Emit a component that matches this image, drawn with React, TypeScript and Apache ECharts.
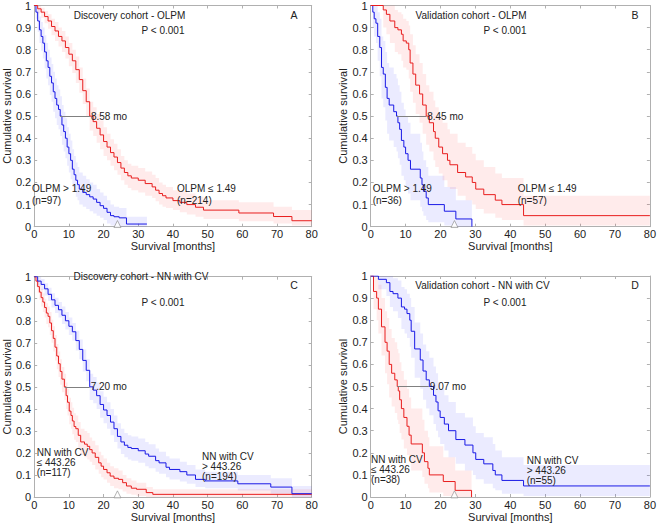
import React, { useEffect, useRef } from 'react';
import * as echarts from 'echarts';

// ---------- DATA ----------
const TITLES = ['Discovery cohort - OLPM', 'Validation cohort - OLPM', 'Discovery cohort - NN with CV', 'Validation cohort - NN with CV'];
const LETTERS = ['A', 'B', 'C', 'D'];
const P_TEXT = 'P < 0.001';
const MED_LABELS = ['8.58 mo', '8.45 mo', '7.20 mo', '9.07 mo'];
const MED_FROM = [7.5, 7.45, 8.8, 7.6];
const MED_TO = [16.08, 15.9, 16.0, 16.67];
const MARKER_X = 24;

// Panel A
const A_BLUE_T = [0, .5, 1, 1.5, 2, 2.5, 3, 3.5, 4, 4.5, 5, 5.5, 6, 6.5, 7, 7.5, 8, 8.5, 9, 9.5, 10, 10.5, 11, 11.5, 12, 12.5, 13, 14, 15, 16, 17, 18, 19, 20, 21, 22, 23, 24.5, 26.6, 32.5];
const A_BLUE_S = [1, .97, .93, .89, .86, .83, .79, .75, .72, .68, .65, .61, .58, .55, .53, .5, .46, .43, .4, .36, .33, .3, .26, .235, .21, .19, .17, .155, .145, .135, .125, .11, .095, .083, .065, .05, .045, .04, .012, .012];
const A_BLUE_HI = [1, 1, .98, .95, .925, .9, .865, .83, .8, .765, .735, .7, .67, .64, .62, .59, .55, .52, .49, .45, .42, .39, .35, .32, .29, .27, .245, .23, .215, .2, .19, .17, .155, .14, .12, .1, .09, .085, .045, .045];
const A_BLUE_LO = [1, .94, .88, .83, .795, .76, .715, .67, .64, .595, .565, .52, .49, .46, .44, .41, .37, .34, .31, .275, .245, .215, .18, .16, .135, .12, .1, .09, .08, .07, .06, .05, .04, .03, .015, .005, 0, 0, 0, 0];

const A_RED_T = [0, 1, 2, 3, 4, 5, 6, 7, 8, 9, 10, 11, 12, 13, 14, 15, 16, 17, 18, 19, 20, 21, 22, 23, 24, 25, 26, 27, 28, 30, 32, 34, 35, 36, 37, 38, 40, 42, 44, 46.5, 48.8, 59, 69, 74.3, 80];
const A_RED_S = [1, .985, .97, .95, .93, .905, .885, .86, .84, .81, .78, .75, .71, .665, .615, .565, .5, .475, .445, .415, .385, .36, .335, .315, .29, .265, .245, .23, .22, .21, .195, .18, .165, .15, .14, .13, .118, .11, .1, .088, .075, .062, .046, .027, .027];
const A_RED_HI = [1, 1, .99, .975, .96, .94, .925, .9, .885, .86, .83, .8, .77, .72, .67, .625, .565, .54, .51, .48, .45, .42, .395, .375, .35, .32, .3, .285, .275, .265, .25, .235, .22, .2, .19, .18, .165, .16, .15, .135, .12, .11, .09, .075, .075];
const A_RED_LO = [1, .965, .945, .92, .895, .865, .84, .815, .79, .76, .725, .695, .65, .605, .555, .5, .435, .41, .38, .35, .32, .3, .275, .255, .235, .21, .19, .175, .165, .155, .14, .13, .115, .1, .09, .085, .075, .065, .055, .045, .035, .025, .015, .005, .005];

// Panel B
const B_BLUE_T = [0, .6, 1, 1.5, 2, 2.6, 3.1, 3.6, 4.2, 4.7, 5.3, 6.6, 7.4, 7.8, 8.3, 8.8, 9.5, 10, 10.7, 11.4, 14.2, 14.7, 15.1, 15.9, 16.5, 21.1, 24.4, 29];
const B_BLUE_S = [1, .97, .94, .92, .86, .81, .72, .69, .63, .58, .55, .52, .5, .47, .44, .39, .36, .33, .3, .26, .22, .19, .16, .13, .1, .07, .035, 0];
const B_BLUE_HI = [1, 1, 1, 1, .97, .94, .86, .84, .79, .74, .72, .69, .67, .64, .61, .56, .53, .5, .47, .42, .38, .34, .3, .27, .23, .18, .12, .1];
const B_BLUE_LO = [1, .9, .86, .83, .75, .68, .58, .54, .48, .42, .39, .36, .34, .31, .28, .23, .21, .18, .15, .12, .09, .07, .05, .03, .02, .005, 0, 0];

const B_RED_T = [0, 3.6, 4.5, 5.5, 6.9, 7.8, 8.8, 9.3, 10.2, 10.9, 11.3, 12.1, 12.9, 14, 14.9, 15.9, 16.8, 18, 18.5, 19.5, 20.6, 22, 22.7, 24.9, 27.2, 29.1, 30.1, 32.4, 35.7, 37.6, 43.8, 80];
const B_RED_S = [1, .98, .96, .93, .9, .89, .87, .84, .83, .8, .74, .69, .64, .6, .55, .5, .47, .43, .4, .36, .33, .3, .28, .245, .225, .2, .17, .145, .12, .1, .05, .05];
const B_RED_HI = [1, 1, 1, 1, .98, .97, .96, .94, .93, .91, .87, .82, .78, .74, .69, .64, .61, .57, .54, .5, .47, .44, .42, .38, .36, .33, .3, .27, .24, .22, .14, .14];
const B_RED_LO = [1, .9, .87, .83, .79, .78, .75, .72, .71, .67, .61, .56, .51, .47, .42, .37, .34, .3, .27, .24, .21, .18, .17, .14, .12, .1, .08, .06, .04, .03, .005, .005];

// Panel C
const C_RED_T = [0, .5, 1, 1.5, 2, 2.5, 3, 3.5, 4, 4.5, 5, 5.5, 6, 6.5, 7, 7.5, 8, 8.7, 9.2, 9.6, 10.1, 10.6, 11, 11.5, 12, 12.7, 13.4, 14.5, 15.3, 16, 16.7, 17.6, 18.6, 19.3, 20, 21, 21.9, 23, 24.3, 25.5, 26.6, 28, 29.5, 32.3, 34.2, 80];
const C_RED_S = [1, .98, .955, .93, .905, .885, .86, .835, .82, .79, .755, .72, .68, .64, .605, .57, .535, .5, .46, .43, .39, .37, .345, .32, .31, .28, .25, .24, .23, .215, .2, .18, .155, .14, .125, .11, .095, .085, .08, .065, .05, .04, .035, .02, .012, .012];
const C_RED_HI = [1, 1, .985, .965, .945, .925, .9, .88, .865, .84, .805, .775, .735, .695, .66, .625, .59, .56, .52, .49, .45, .43, .405, .38, .37, .34, .31, .3, .29, .27, .255, .235, .205, .19, .175, .155, .14, .13, .12, .1, .085, .075, .065, .045, .035, .035];
const C_RED_LO = [1, .955, .925, .895, .865, .84, .815, .785, .77, .735, .7, .66, .62, .58, .545, .51, .475, .44, .4, .37, .33, .31, .285, .26, .25, .22, .19, .18, .17, .16, .145, .125, .105, .09, .08, .065, .05, .04, .035, .025, .015, .01, .005, 0, 0, 0];

const C_BLUE_T = [0, 1, 2, 3, 4, 5, 6, 7, 8, 9, 10, 11, 12, 13, 14, 15, 16, 17, 18, 19, 20, 21, 22, 23, 24, 25, 26, 27, 28, 30, 32, 33, 35, 36, 38, 39, 42, 44, 46.5, 49.3, 58.7, 68.2, 74.3, 80];
const C_BLUE_S = [1, .98, .965, .945, .92, .895, .87, .85, .825, .8, .775, .75, .71, .67, .62, .575, .5, .485, .46, .42, .395, .37, .34, .31, .275, .25, .235, .225, .22, .21, .195, .185, .165, .155, .135, .125, .115, .1, .08, .073, .06, .045, .015, .015];
const C_BLUE_HI = [1, 1, .99, .97, .95, .925, .905, .885, .865, .84, .815, .79, .755, .715, .67, .625, .56, .545, .52, .48, .455, .43, .4, .37, .335, .31, .29, .28, .275, .265, .25, .24, .22, .205, .185, .175, .16, .145, .125, .115, .1, .085, .05, .05];
const C_BLUE_LO = [1, .96, .94, .915, .89, .86, .835, .815, .785, .76, .735, .71, .665, .625, .57, .525, .44, .425, .4, .36, .335, .31, .28, .25, .22, .195, .18, .17, .165, .155, .14, .13, .115, .105, .09, .08, .07, .06, .045, .04, .03, .015, 0, 0];

// Panel D
const D_RED_T = [0, .8, 1.7, 2.2, 3.1, 4.1, 4.7, 5.3, 6, 6.9, 7.6, 7.9, 8.3, 8.8, 9.5, 10.4, 11, 11.6, 14.8, 15.4, 16.4, 16.8, 20.8, 24.2, 28.9];
const D_RED_S = [1, .93, .9, .85, .77, .7, .66, .6, .56, .53, .5, .48, .44, .4, .36, .32, .28, .24, .2, .16, .13, .1, .07, .03, 0];
const D_RED_HI = [1, 1, .99, .96, .9, .84, .81, .76, .72, .7, .67, .65, .61, .57, .53, .49, .45, .4, .35, .3, .27, .23, .18, .12, .1];
const D_RED_LO = [1, .85, .8, .74, .64, .56, .51, .45, .41, .38, .35, .33, .29, .26, .22, .19, .16, .12, .09, .06, .04, .02, .005, 0, 0];

const D_BLUE_T = [0, 2.2, 4.5, 5.5, 6.4, 7.8, 8.8, 9.7, 10.4, 11.2, 11.6, 12.6, 14.2, 15, 15.9, 16.8, 18, 18.7, 19.3, 19.9, 21.1, 22.3, 24.4, 27, 29.3, 30.1, 32.4, 35, 35.7, 37.6, 43.8, 80];
const D_BLUE_S = [1, .985, .97, .93, .92, .9, .86, .85, .83, .8, .75, .67, .62, .57, .53, .5, .46, .43, .39, .36, .33, .3, .26, .235, .2, .17, .15, .12, .1, .075, .05, .05];
const D_BLUE_HI = [1, 1, 1, 1, .99, .98, .95, .94, .92, .9, .86, .79, .74, .69, .66, .63, .59, .56, .52, .49, .46, .43, .38, .36, .32, .29, .27, .24, .21, .18, .145, .145];
const D_BLUE_LO = [1, .94, .91, .86, .84, .81, .76, .74, .72, .68, .63, .54, .49, .44, .4, .37, .33, .3, .27, .24, .21, .18, .15, .12, .1, .08, .06, .04, .03, .015, .005, .005];

// Group labels (lines of text)
const GROUP_LABELS = [
  [['OLPM > 1.49', '(n=97)'], ['OLPM \u2264 1.49', '(n=214)']],
  [['OLPM > 1.49', '(n=36)'], ['OLPM \u2264 1.49', '(n=57)']],
  [['NN with CV', '\u2264 443.26', '(n=117)'], ['NN with CV', '> 443.26', '(n=194)']],
  [['NN with CV', '\u2264 443.26', '(n=38)'], ['NN with CV', '> 443.26', '(n=55)']],
];

// ---------- LAYOUT / STYLE ----------
const FONT = 'Liberation Sans, Arial, Helvetica, sans-serif';
const BLUE = 'rgb(25,25,230)';
const RED = 'rgb(232,30,30)';
const BLUE_BAND = 'rgba(60,60,255,0.10)';
const RED_BAND = 'rgba(255,60,60,0.10)';
const AXIS_COLOR = '#b0b0b0';

const GRIDS = [
  { left: 29.3, top: 5, width: 282.4, height: 221.7 },
  { left: 370.7, top: 5, width: 282, height: 221.7 },
  { left: 29.3, top: 276.7, width: 282.4, height: 221 },
  { left: 370.7, top: 276, width: 282, height: 221.7 },
];
const TEXT_POS = [
  { title: [129.5, 15], p: [163, 30], letter: [294, 15], groups: [[32, 188, 12], [177, 188, 12]] },
  { title: [471, 15], p: [505, 30], letter: [635, 15], groups: [[372.7, 188, 12], [517.7, 188, 12]] },
  { title: [141, 276], p: [163, 302], letter: [294, 285], groups: [[36.7, 452.3, 10], [202, 456.7, 10]] },
  { title: [482.5, 285], p: [505, 302.7], letter: [635, 285], groups: [[371, 459.3, 10], [526.7, 460, 10]] },
];

type Curve = { t: number[]; s: number[]; lo: number[]; hi: number[]; color: string; band: string };
const PANEL_CURVES: Curve[][] = [
  [
    { t: A_BLUE_T, s: A_BLUE_S, lo: A_BLUE_LO, hi: A_BLUE_HI, color: BLUE, band: BLUE_BAND },
    { t: A_RED_T, s: A_RED_S, lo: A_RED_LO, hi: A_RED_HI, color: RED, band: RED_BAND },
  ],
  [
    { t: B_BLUE_T, s: B_BLUE_S, lo: B_BLUE_LO, hi: B_BLUE_HI, color: BLUE, band: BLUE_BAND },
    { t: B_RED_T, s: B_RED_S, lo: B_RED_LO, hi: B_RED_HI, color: RED, band: RED_BAND },
  ],
  [
    { t: C_RED_T, s: C_RED_S, lo: C_RED_LO, hi: C_RED_HI, color: RED, band: RED_BAND },
    { t: C_BLUE_T, s: C_BLUE_S, lo: C_BLUE_LO, hi: C_BLUE_HI, color: BLUE, band: BLUE_BAND },
  ],
  [
    { t: D_RED_T, s: D_RED_S, lo: D_RED_LO, hi: D_RED_HI, color: RED, band: RED_BAND },
    { t: D_BLUE_T, s: D_BLUE_S, lo: D_BLUE_LO, hi: D_BLUE_HI, color: BLUE, band: BLUE_BAND },
  ],
];

function bandSeries(c: Curve, gi: number) {
  return {
    type: 'custom',
    xAxisIndex: 2 * gi,
    yAxisIndex: 2 * gi,
    silent: true,
    z: 1,
    data: c.t.map((x, i) => [x, c.lo[i], c.hi[i]]),
    encode: { x: 0, y: [1, 2] },
    renderItem: (params: any, api: any) => {
      if (params.dataIndex !== 0) return null;
      const pts: number[][] = [];
      for (let i = 0; i < c.t.length; i++) {
        if (i > 0) pts.push(api.coord([c.t[i], c.hi[i - 1]]));
        pts.push(api.coord([c.t[i], c.hi[i]]));
      }
      for (let i = c.t.length - 1; i >= 0; i--) {
        pts.push(api.coord([c.t[i], c.lo[i]]));
        if (i > 0) pts.push(api.coord([c.t[i], c.lo[i - 1]]));
      }
      return { type: 'polygon', shape: { points: pts }, style: { fill: c.band } };
    },
  };
}

function buildOption() {
  const grid: any[] = [];
  const xAxis: any[] = [];
  const yAxis: any[] = [];
  const series: any[] = [];
  const graphic: any[] = [];

  GRIDS.forEach((g, gi) => {
    grid.push({ ...g, containLabel: false });
    const common = {
      gridIndex: gi,
      type: 'value',
      axisLine: { show: true, onZero: false, lineStyle: { color: AXIS_COLOR, width: 1 } },
      axisTick: { show: true, inside: true, length: 3, lineStyle: { color: AXIS_COLOR } },
      splitLine: { show: false },
    };
    xAxis.push({
      ...common, position: 'bottom', min: 0, max: 80, interval: 10,
      axisLabel: { color: '#222', fontSize: 11, fontFamily: FONT, margin: 2 },
      name: 'Survival [months]', nameLocation: 'middle', nameGap: 14,
      nameTextStyle: { color: '#222', fontSize: 11, fontFamily: FONT },
    });
    xAxis.push({ ...common, position: 'top', min: 0, max: 80, interval: 10, axisLabel: { show: false } });
    yAxis.push({
      ...common, position: 'left', min: 0, max: 1, interval: 0.1,
      axisLabel: { color: '#222', fontSize: 11, fontFamily: FONT, margin: 3 },
      name: 'Cumulative survival', nameLocation: 'middle', nameGap: 19,
      nameTextStyle: { color: '#222', fontSize: 11, fontFamily: FONT },
    });
    yAxis.push({ ...common, position: 'right', min: 0, max: 1, interval: 0.1, axisLabel: { show: false } });

    const curves = PANEL_CURVES[gi];
    curves.forEach((c) => series.push(bandSeries(c, gi)));
    curves.forEach((c, ci) => {
      const s: any = {
        type: 'line', step: 'end', xAxisIndex: 2 * gi, yAxisIndex: 2 * gi,
        data: c.t.map((x, i) => [x, c.s[i]]),
        showSymbol: false, symbol: 'none', silent: true, z: 3,
        lineStyle: { color: c.color, width: 1 },
      };
      if (ci === 1) {
        s.markLine = {
          silent: true, symbol: 'none', animation: false,
          lineStyle: { color: '#808080', width: 1, type: 'solid' },
          label: { show: true, position: 'end', formatter: MED_LABELS[gi], color: '#222', fontSize: 10, fontFamily: FONT, distance: 1 },
          data: [[{ coord: [MED_FROM[gi], 0.5] }, { coord: [MED_TO[gi], 0.5] }]],
        };
      }
      series.push(s);
    });
    series.push({
      type: 'scatter', xAxisIndex: 2 * gi, yAxisIndex: 2 * gi, silent: true, z: 4,
      data: [[MARKER_X, 0.012]], symbol: 'triangle', symbolSize: 7,
      itemStyle: { color: '#ffffff', borderColor: '#888', borderWidth: 0.8 },
    });

    const tp = TEXT_POS[gi];
    const txt = (text: string, x: number, y: number, align = 'left', size = 10) => ({
      type: 'text', x, y, silent: true, z: 10,
      style: { text, fontSize: size, fontFamily: FONT, fill: '#222', align, verticalAlign: 'middle' },
    });
    graphic.push(txt(TITLES[gi], tp.title[0], tp.title[1], 'center'));
    graphic.push(txt(P_TEXT, tp.p[0], tp.p[1], 'center'));
    graphic.push(txt(LETTERS[gi], tp.letter[0], tp.letter[1], 'center', 10.5));
    GROUP_LABELS[gi].forEach((lines, li) => {
      const [gx, gy, lh] = tp.groups[li];
      lines.forEach((line, k) => graphic.push(txt(line, gx, gy + k * lh, 'left')));
    });
  });

  return { animation: false, backgroundColor: '#ffffff', grid, xAxis, yAxis, series, graphic };
}

export default function App() {
  const ref = useRef<HTMLDivElement>(null);
  useEffect(() => {
    if (!ref.current) return;
    const chart = echarts.init(ref.current, undefined, { renderer: 'svg' });
    chart.setOption(buildOption() as any);
    return () => chart.dispose();
  }, []);
  return <div ref={ref} style={{ position: 'fixed', left: 0, top: 0, width: 659, height: 523, background: '#fff' }} />;
}
